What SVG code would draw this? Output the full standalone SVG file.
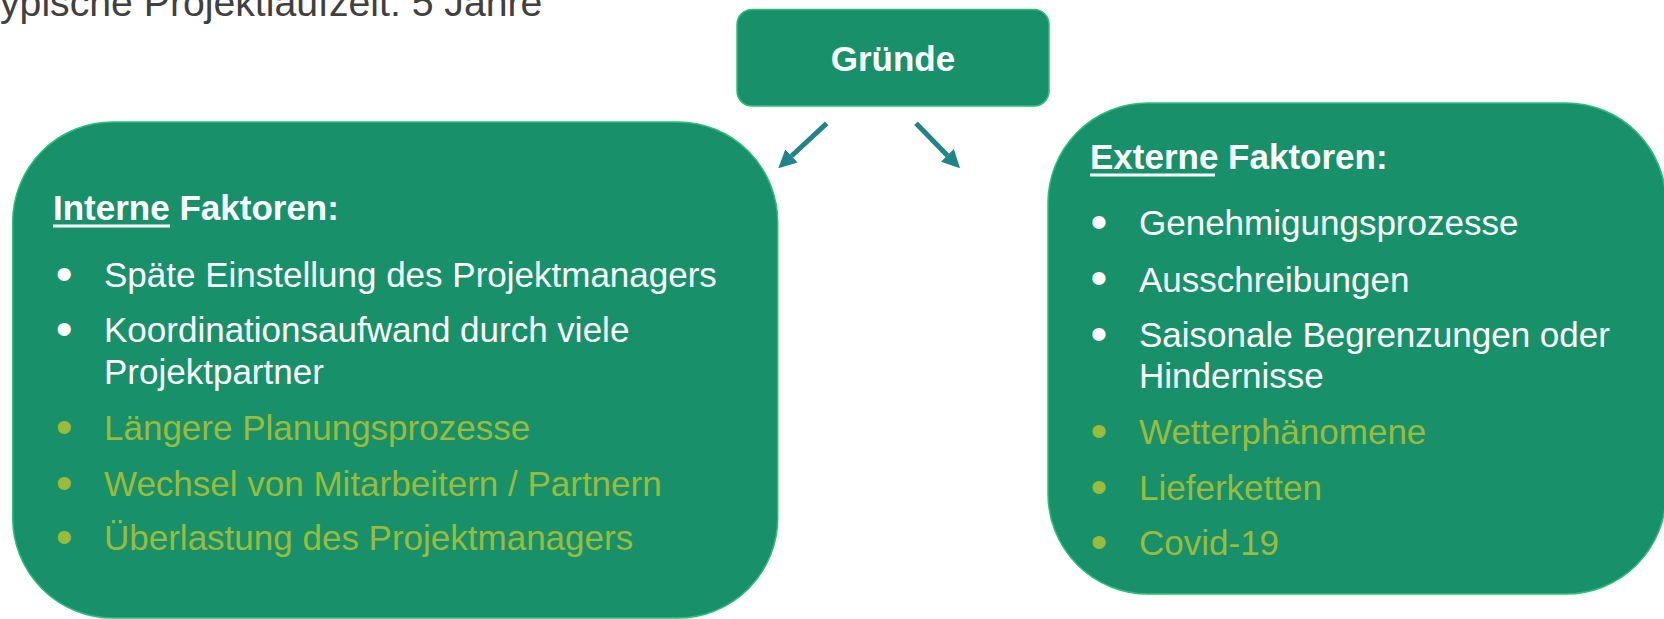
<svg xmlns="http://www.w3.org/2000/svg" width="1664" height="619" viewBox="0 0 1664 619">
<defs>
<marker id="ah" viewBox="0 0 18 18" refX="0" refY="9" markerWidth="18" markerHeight="18" orient="auto" markerUnits="userSpaceOnUse">
<path d="M0,0 L18,9 L0,18 z" fill="#208489"/>
</marker>
<style>
.box{fill:#18916A;stroke:#2BBE7E;stroke-width:1.5}
.t{font-family:"Liberation Sans",Arial,sans-serif;font-size:35px}
.bl{font-family:"Liberation Sans",Arial,sans-serif;font-size:48px}
.w{fill:#FFFFFF}
.o{fill:#9BBB3B}
.b{font-weight:bold}
.conn{stroke:#208489;stroke-width:5;fill:none;marker-end:url(#ah)}
</style>
</defs>
<rect width="1664" height="619" fill="#FFFFFF"/>
<text id="title" x="0" y="16" font-family="Liberation Sans, Arial, sans-serif" font-size="39.2" fill="#404040">ypische Projektlaufzeit: 5 Jahre</text>
<g id="gruende">
<rect class="box" x="737" y="9.5" width="312" height="96.5" rx="15"/>
<text class="t w b" x="893" y="71" text-anchor="middle">Gründe</text>
</g>
<g id="connectors">
<line class="conn" x1="826.7" y1="123.3" x2="791.5" y2="156"/>
<line class="conn" x1="916" y1="123.3" x2="947.4" y2="155.4"/>
</g>
<g id="interne">
<rect class="box" x="12.7" y="122" width="765" height="496" rx="100"/>
<text class="t w b" x="53" y="220">Interne Faktoren:</text>
<rect x="53" y="224.5" width="117" height="3" fill="#FFFFFF"/>
<text class="bl w" x="55.8" y="290">•</text>
<text class="t w" x="104" y="287">Späte Einstellung des Projektmanagers</text>
<text class="bl w" x="55.8" y="345">•</text>
<text class="t w" x="104" y="342">Koordinationsaufwand durch viele</text>
<text class="t w" x="104" y="384">Projektpartner</text>
<text class="bl o" x="55.8" y="443">•</text>
<text class="t o" x="104" y="440">Längere Planungsprozesse</text>
<text class="bl o" x="55.8" y="499">•</text>
<text class="t o" x="104" y="496">Wechsel von Mitarbeitern / Partnern</text>
<text class="bl o" x="55.8" y="553">•</text>
<text class="t o" x="104" y="550">Überlastung des Projektmanagers</text>
</g>
<g id="externe">
<rect class="box" x="1048" y="103" width="618" height="491" rx="100"/>
<text class="t w b" x="1090" y="169">Externe Faktoren:</text>
<rect x="1090" y="173.5" width="125" height="3" fill="#FFFFFF"/>
<text class="bl w" x="1090.5" y="238">•</text>
<text class="t w" x="1139" y="235">Genehmigungsprozesse</text>
<text class="bl w" x="1090.5" y="294">•</text>
<text class="t w" x="1139" y="291.5">Ausschreibungen</text>
<text class="bl w" x="1090.5" y="350">•</text>
<text class="t w" x="1139" y="347">Saisonale Begrenzungen oder</text>
<text class="t w" x="1139" y="388">Hindernisse</text>
<text class="bl o" x="1090.5" y="447">•</text>
<text class="t o" x="1139" y="444">Wetterphänomene</text>
<text class="bl o" x="1090.5" y="503">•</text>
<text class="t o" x="1139" y="500">Lieferketten</text>
<text class="bl o" x="1090.5" y="558">•</text>
<text class="t o" x="1139" y="555">Covid-19</text>
</g>
</svg>
